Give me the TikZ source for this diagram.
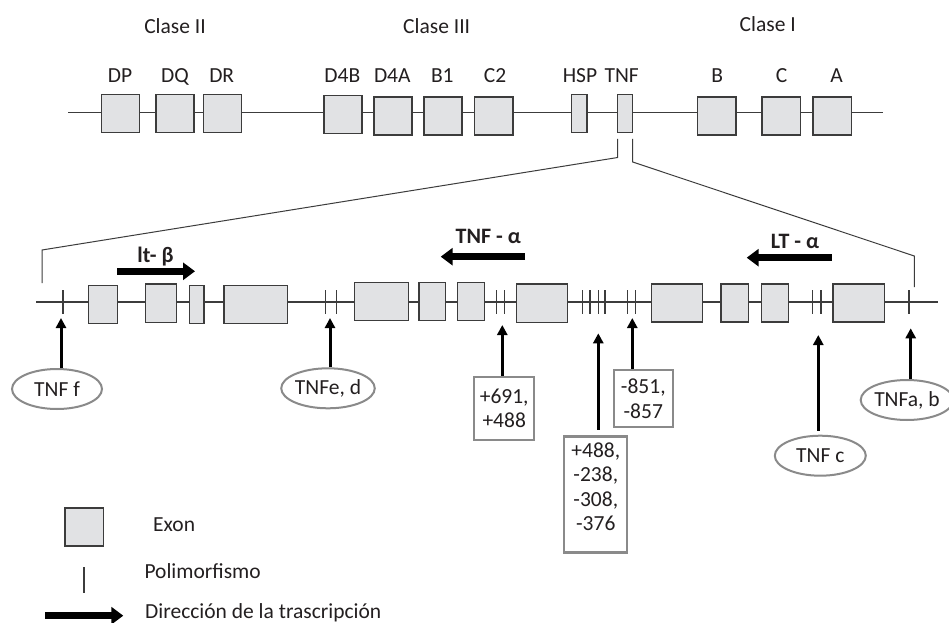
\documentclass[tikz,border=0pt]{standalone}
\usepackage{fontspec}
\setmainfont{Carlito}
\usetikzlibrary{shapes.geometric,arrows.meta}
\definecolor{exfill}{HTML}{E1E2E4}
\definecolor{exdraw}{HTML}{3C3C3C}
\definecolor{lblc}{HTML}{8A8A8A}
\definecolor{txt}{HTML}{231F20}
\tikzset{
  exon/.style={draw=exdraw, fill=exfill, line width=1.4bp, inner sep=0pt},
  gline/.style={draw=exdraw, line width=1.2bp},
  poly/.style={draw=exdraw, line width=1.2bp},
  bracketline/.style={draw=exdraw, line width=1bp},
  labbox/.style={draw=lblc, line width=2.1bp, inner sep=1bp, align=center},
  oval/.style={draw=lblc, line width=2bp, ellipse, inner sep=0pt, minimum height=40bp},
  uparrow/.style={draw=black, line width=3bp, -{Triangle[length=10bp,width=10bp]}},
  txarrow/.style={draw=black, line width=7bp, -{Triangle[length=12bp,width=17bp]}},
  gtext/.style={anchor=base, inner sep=0pt},
  btext/.style={anchor=base, inner sep=0pt, font=\fontsize{22bp}{24bp}\selectfont\bfseries},
}
\begin{document}
\begin{tikzpicture}[x=1bp,y=-1bp, font=\fontsize{21.5bp}{24.5bp}\selectfont, text=txt]
\fill[white] (0,0) rectangle (949,623);
\useasboundingbox (0,0) rectangle (949,623);

% ---------- top chromosome map ----------
\node[gtext] (c2) at (175,33.5) {Clase II};
\node[gtext] (c3) at (436.7,33.5) {Clase III};
\node[gtext] (c1) at (767.7,32) {Clase I};

\coordinate (tl) at (68,112.7);
\coordinate (tr) at (882.7,112.7);
\draw[gline] (tl) -- (tr);

\node[exon, minimum width=38.2bp, minimum height=38bp] (DP)  at (120.5,113.7) {};
\node[exon, minimum width=38.2bp, minimum height=38bp] (DQ)  at (174.9,113.7) {};
\node[exon, minimum width=38.2bp, minimum height=38bp] (DR)  at (222.5,113.7) {};
\node[exon, minimum width=38.2bp, minimum height=38bp] (D4B) at (343,114.7) {};
\node[exon, minimum width=38.2bp, minimum height=38bp] (D4A) at (392.9,116.2) {};
\node[exon, minimum width=38.2bp, minimum height=38bp] (B1)  at (443,116.2) {};
\node[exon, minimum width=38.2bp, minimum height=38bp] (C2)  at (493.7,116.2) {};
\node[exon, minimum width=15.6bp, minimum height=38bp] (HSP) at (579.2,113.8) {};
\node[exon, minimum width=15.2bp, minimum height=38bp] (TNF) at (625,113.8) {};
\node[exon, minimum width=38.2bp, minimum height=38bp] (B)   at (716.7,116.2) {};
\node[exon, minimum width=38.2bp, minimum height=38bp] (C)   at (781.2,116.2) {};
\node[exon, minimum width=38.2bp, minimum height=38bp] (A)   at (832.2,116.2) {};

\node[gtext] at (120,83) {DP};
\node[gtext] at (175,83) {DQ};
\node[gtext] at (221.7,83) {DR};
\node[gtext] at (342.3,83) {D4B};
\node[gtext] at (392.3,83) {D4A};
\node[gtext] at (442.3,83) {B1};
\node[gtext] at (495,83) {C2};
\node[gtext] at (580,83) {HSP};
\node[gtext] at (621.7,83) {TNF};
\node[gtext] at (717.3,83) {B};
\node[gtext] at (781.7,83) {C};
\node[gtext] at (836.7,83) {A};

% ---------- zoom bracket ----------
\draw[bracketline] (617.7,139) -- (617.7,157.5) -- (42,250) -- (42,283);
\draw[bracketline] (632.7,139) -- (632.7,162) -- (914.3,256) -- (914.3,287);

% ---------- detailed TNF region ----------
\coordinate (bl) at (36,302);
\coordinate (br) at (938.3,302);
\draw[gline] (bl) -- (br);

\foreach \x in {63,325.7,336.7,496.7,504.3,582.3,590,598.3,605,627.7,635.3,812.3,821,909}
  \draw[poly] (\x,290) -- (\x,314);

\node[exon, minimum width=29bp,   minimum height=37.6bp] (E1)  at (102.9,304.5) {};
\node[exon, minimum width=31bp,   minimum height=38.6bp] (E2)  at (161.2,303.3) {};
\node[exon, minimum width=14.6bp, minimum height=37.6bp] (E3)  at (196.7,304.5) {};
\node[exon, minimum width=63.6bp, minimum height=37.6bp] (E4)  at (255.8,304.5) {};
\node[exon, minimum width=54bp,   minimum height=38bp]   (E5)  at (381.7,301.3) {};
\node[exon, minimum width=26.3bp, minimum height=38bp]   (E6)  at (432.2,301.3) {};
\node[exon, minimum width=27bp,   minimum height=38bp]   (E7)  at (470.9,301.3) {};
\node[exon, minimum width=51.2bp, minimum height=38.6bp] (E8)  at (542,303.3) {};
\node[exon, minimum width=51.2bp, minimum height=38bp]   (E9)  at (677,303) {};
\node[exon, minimum width=27.6bp, minimum height=38bp]   (E10) at (734.8,303) {};
\node[exon, minimum width=27.2bp, minimum height=38bp]   (E11) at (775,303) {};
\node[exon, minimum width=51.3bp, minimum height=38bp]   (E12) at (858.7,303) {};

% transcription directions
\coordinate (lbt) at (117.3,271.3);  \coordinate (lbh) at (195,271.3);
\coordinate (tat) at (525,256.7);    \coordinate (tah) at (440.7,256.7);
\coordinate (lat) at (831.7,257.7);  \coordinate (lah) at (746.7,257.7);
\draw[txarrow] (lbt) -- (lbh);
\draw[txarrow] (tat) -- (tah);
\draw[txarrow] (lat) -- (lah);
\node[btext] (lbl) at (155.5,263) {lt- β};
\node[btext] (tal) at (488.3,243.3) {TNF - α};
\node[btext] (lal) at (795,248.3) {LT - α};

% ---------- polymorphism labels ----------
\node[oval, minimum width=90bp] (ef) at (57,389) {TNF f};
\node[oval, minimum width=90bp] (eed) at (328,388.3) {TNFe, d};
\node[labbox, minimum width=60bp, minimum height=63bp] (b691) at (504.2,408.2) {+691,\\+488};
\node[labbox, minimum width=63bp, minimum height=116bp] (b488) at (595.8,494.5) {+488,\\-238,\\-308,\\-376\\[-9bp]\mbox{}};
\node[labbox, minimum width=59.5bp, minimum height=56.6bp] (b851) at (643.3,398.5) {-851,\\-857};
\node[oval, minimum width=91bp] (ec) at (820.3,455.7) {TNF c};
\node[oval, minimum width=86bp] (eab) at (907,400) {TNFa, b};

\coordinate (p1) at (61,318);
\coordinate (p2) at (330,318);
\coordinate (p3) at (502.3,325);
\coordinate (p4) at (598.3,333.3);
\coordinate (p5) at (632.3,318);
\coordinate (p6) at (818.3,335);
\coordinate (p7) at (910.7,328.3);
\draw[uparrow] (ef.north -| p1) -- (p1);
\draw[uparrow] (eed.north -| p2) -- (p2);
\draw[uparrow] (b691.north -| p3) -- (p3);
\draw[uparrow, shorten <=5.5bp] (b488.north -| p4) -- (p4);
\draw[uparrow] (b851.north -| p5) -- (p5);
\draw[uparrow, shorten <=4bp] (ec.north -| p6) -- (p6);
\draw[uparrow] (eab.north -| p7) -- (p7);

% ---------- legend ----------
\node[exon, minimum width=38.3bp, minimum height=38bp] (lex) at (84.2,527) {};
\node[anchor=base west, inner sep=0pt] (lext) at (153,531.7) {Exon};
\coordinate (lpa) at (84,567.3);
\coordinate (lpb) at (84,592.7);
\draw[poly] (lpa) -- (lpb);
\node[anchor=base west, inner sep=0pt] (lpt) at (144.3,578.3) {Polimorfismo};
\coordinate (laa) at (45,615.7);
\coordinate (lab) at (123.3,615.7);
\draw[txarrow] (laa) -- (lab);
\node[anchor=base west, inner sep=0pt] (lat2) at (145,618.3) {Dirección de la trascripción};
\end{tikzpicture}
\end{document}
